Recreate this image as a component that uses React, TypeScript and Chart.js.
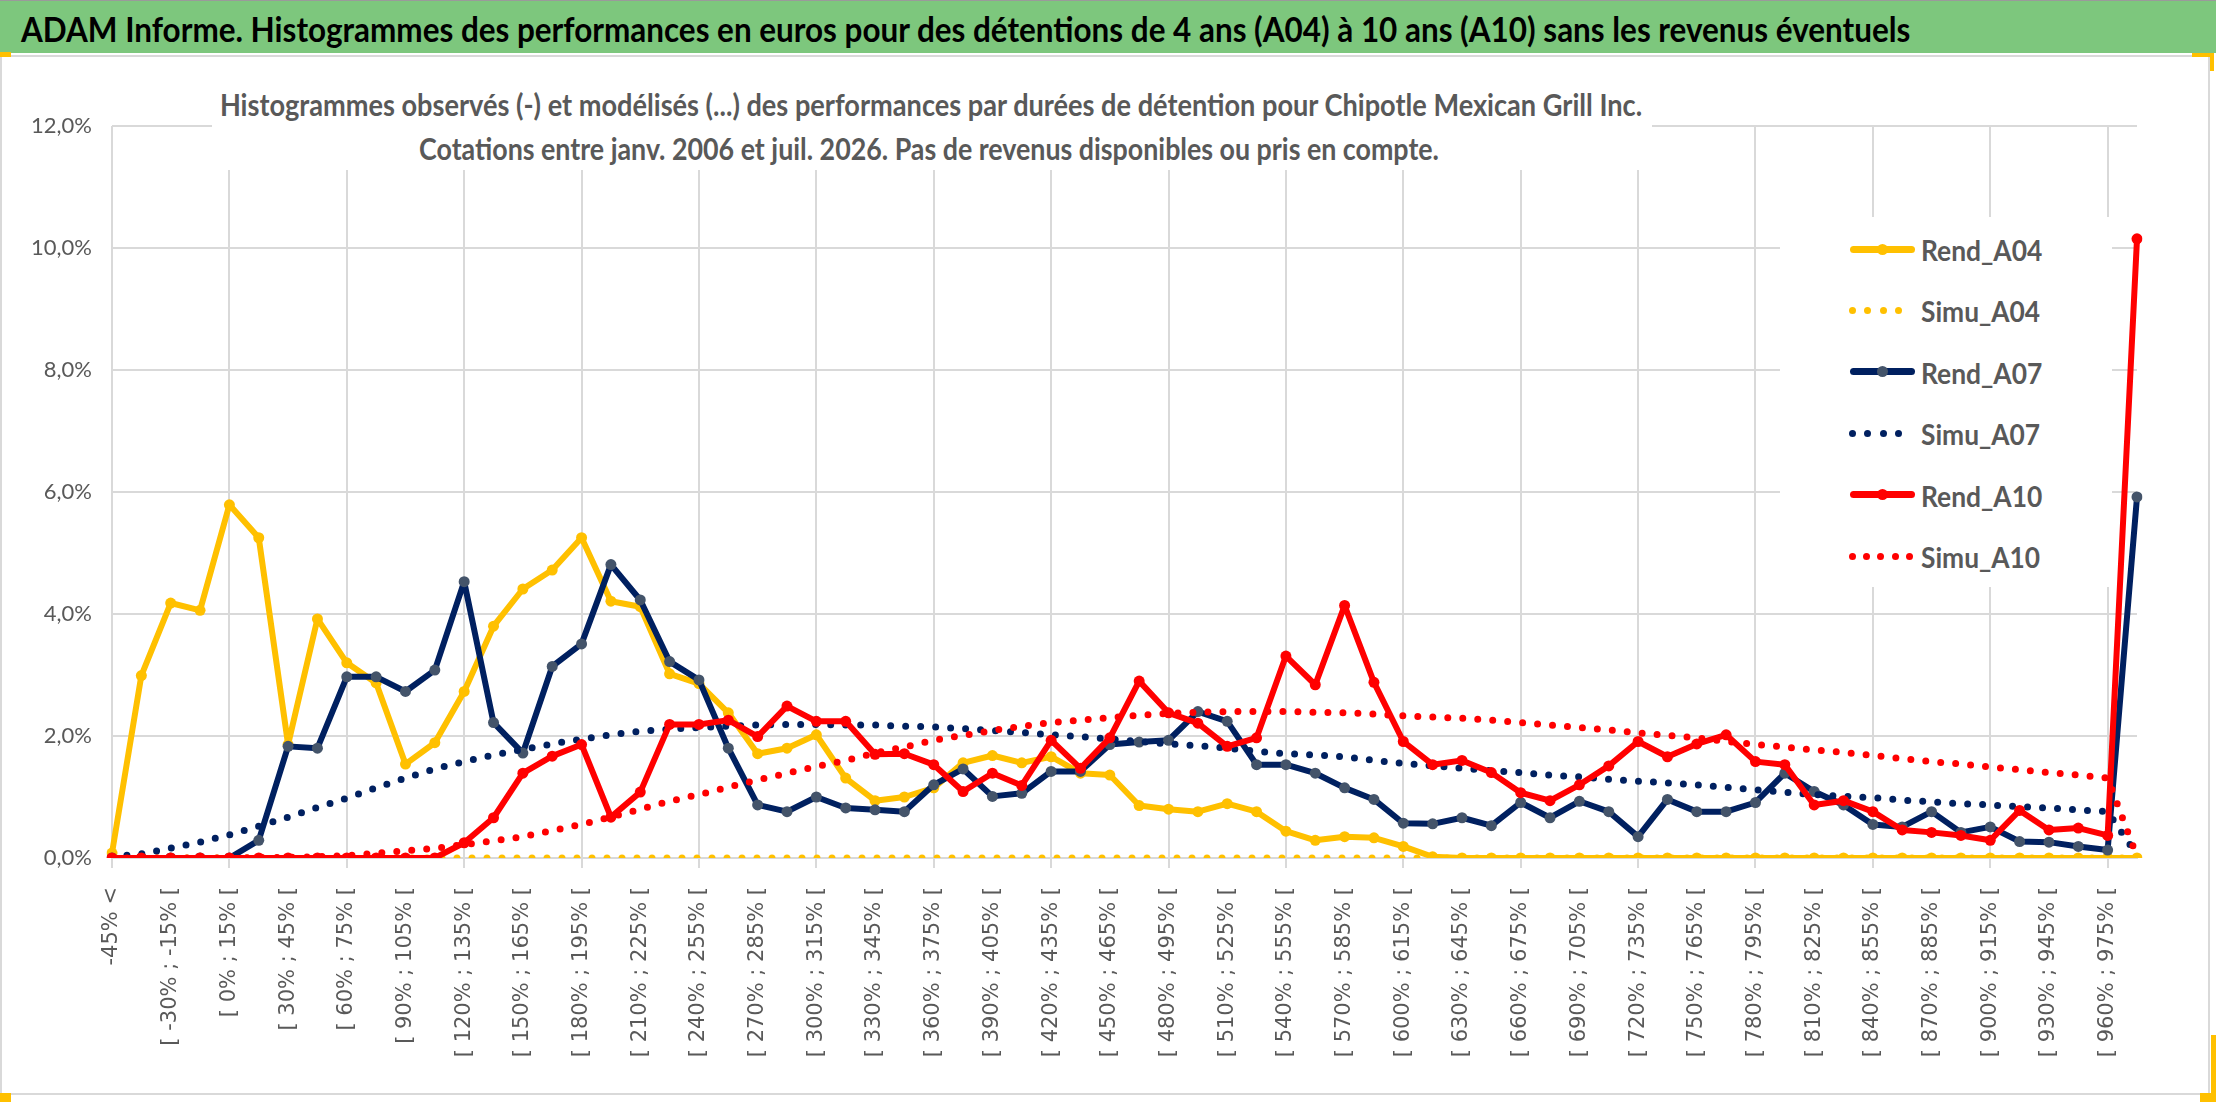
import { useEffect, useLayoutEffect, useRef, useState } from 'react';
import { Chart, registerables } from 'chart.js';

Chart.register(...registerables);

// lower bounds of the 15% bins, between "-45% <" and the last open bin
const binLower = [
    -45, -30, -15, 0, 15, 30, 45, 60, 75, 90, 105, 120, 135, 150, 165, 180, 195,
    210, 225, 240, 255, 270, 285, 300, 315, 330, 345, 360, 375, 390, 405, 420, 435,
    450, 465, 480, 495, 510, 525, 540, 555, 570, 585, 600, 615, 630, 645, 660, 675,
    690, 705, 720, 735, 750, 765, 780, 795, 810, 825, 840, 855, 870, 885, 900, 915,
    930, 945, 960,
];
const categories = ['-45% <', ...binLower.map((b) => `[ ${b}% ; ${b + 15}% [`), '> 975%'];

// values in %
const rendA04 = [
    0.08, 2.99, 4.18, 4.06, 5.79, 5.25, 1.86, 3.92, 3.2, 2.87,
    1.54, 1.89, 2.73, 3.8, 4.41, 4.72, 5.25, 4.21, 4.12, 3.02,
    2.86, 2.38, 1.71, 1.8, 2.02, 1.31, 0.94, 1.0, 1.15, 1.56,
    1.68, 1.56, 1.66, 1.39, 1.36, 0.86, 0.8, 0.76, 0.89, 0.76,
    0.44, 0.29, 0.35, 0.33, 0.19, 0.02, 0, 0, 0, 0,
    0, 0, 0, 0, 0, 0, 0, 0, 0, 0,
    0, 0, 0, 0, 0, 0, 0, 0, 0, 0,
];
const simuA04 = [
    0, 0, 0, 0, 0, 0, 0, 0, 0, 0,
    0, 0, 0, 0, 0, 0, 0, 0, 0, 0,
    0, 0, 0, 0, 0, 0, 0, 0, 0, 0,
    0, 0, 0, 0, 0, 0, 0, 0, 0, 0,
    0, 0, 0, 0, 0, 0, 0, 0, 0, 0,
    0, 0, 0, 0, 0, 0, 0, 0, 0, 0,
    0, 0, 0, 0, 0, 0, 0, 0, 0, 0,
];
const rendA07 = [
    0, 0, 0, 0, 0, 0.29, 1.83, 1.8, 2.97, 2.97,
    2.73, 3.08, 4.53, 2.22, 1.72, 3.14, 3.51, 4.81, 4.23, 3.22,
    2.92, 1.8, 0.87, 0.76, 1.0, 0.82, 0.79, 0.76, 1.2, 1.46,
    1.01, 1.06, 1.42, 1.42, 1.86, 1.9, 1.93, 2.4, 2.24, 1.53,
    1.53, 1.39, 1.15, 0.96, 0.57, 0.56, 0.66, 0.53, 0.91, 0.66,
    0.93, 0.76, 0.35, 0.96, 0.76, 0.76, 0.91, 1.39, 1.09, 0.87,
    0.55, 0.51, 0.76, 0.42, 0.51, 0.27, 0.26, 0.19, 0.13, 5.92,
];
const simuA07 = [
    0.02, 0.07, 0.16, 0.26, 0.38, 0.52, 0.67, 0.83, 0.98, 1.15,
    1.31, 1.46, 1.58, 1.69, 1.78, 1.87, 1.95, 2.02, 2.08, 2.11,
    2.14, 2.16, 2.18, 2.19, 2.19, 2.18, 2.18, 2.16, 2.15, 2.12,
    2.09, 2.06, 2.02, 1.99, 1.95, 1.91, 1.87, 1.84, 1.8, 1.75,
    1.71, 1.69, 1.66, 1.6, 1.55, 1.51, 1.47, 1.43, 1.4, 1.36,
    1.33, 1.29, 1.26, 1.23, 1.2, 1.16, 1.12, 1.08, 1.04, 1.01,
    0.99, 0.95, 0.92, 0.89, 0.87, 0.84, 0.82, 0.79, 0.76, 0.05,
];
const rendA10 = [
    0, 0, 0, 0, 0, 0, 0, 0, 0, 0,
    0, 0, 0.25, 0.66, 1.39, 1.67, 1.86, 0.67, 1.08, 2.19,
    2.19, 2.26, 1.99, 2.49, 2.24, 2.24, 1.7, 1.71, 1.53, 1.09,
    1.39, 1.19, 1.93, 1.47, 1.97, 2.9, 2.38, 2.21, 1.83, 1.97,
    3.31, 2.84, 4.14, 2.88, 1.91, 1.53, 1.6, 1.4, 1.07, 0.94,
    1.2, 1.51, 1.91, 1.66, 1.87, 2.02, 1.58, 1.53, 0.87, 0.94,
    0.76, 0.46, 0.42, 0.37, 0.29, 0.78, 0.46, 0.49, 0.37, 10.15,
];
const simuA10 = [
    0, 0, 0, 0, 0, 0.01, 0.01, 0.02, 0.04, 0.08,
    0.12, 0.16, 0.22, 0.28, 0.35, 0.45, 0.55, 0.67, 0.8, 0.93,
    1.04, 1.16, 1.28, 1.39, 1.5, 1.6, 1.72, 1.82, 1.93, 2.01,
    2.09, 2.16, 2.22, 2.26, 2.3, 2.34, 2.37, 2.39, 2.4, 2.4,
    2.4, 2.39, 2.38, 2.36, 2.33, 2.31, 2.29, 2.26, 2.22, 2.18,
    2.14, 2.1, 2.05, 2.01, 1.97, 1.91, 1.86, 1.82, 1.77, 1.73,
    1.68, 1.63, 1.58, 1.54, 1.49, 1.45, 1.4, 1.36, 1.31, 0.02,
];

const YELLOW = '#FFC000';
const NAVY = '#002060';
const NAVY_MARK = '#44546A';
const RED = '#FF0000';
const GRID = '#D9D9D9';
const TEXT = '#595959';

const W = 2216;
const H = 1102;
const PLOT = { left: 112, right: 2137, top: 126, bottom: 858 };

const solid = (label: string, data: number[], color: string, mark: string, order: number) => ({
    label,
    data,
    borderColor: color,
    backgroundColor: color,
    borderWidth: 6,
    borderJoinStyle: 'round',
    pointRadius: 5.5,
    pointBackgroundColor: mark,
    pointBorderColor: mark,
    pointBorderWidth: 0,
    tension: 0,
    order,
});

const dotted = (label: string, data: number[], color: string, order: number) => ({
    label,
    data,
    borderColor: color,
    backgroundColor: color,
    borderWidth: 7,
    borderDash: [0, 15],
    borderCapStyle: 'round',
    pointRadius: 0,
    tension: 0,
    order,
});

type FitProps = {
    text: string;
    x: number;
    y: number;
    width: number;
    font: string;
    color: string;
    center?: boolean;
};

// text squeezed horizontally to the width it has in the picture
const FitText = ({ text, x, y, width, font, color, center }: FitProps) => {
    const ref = useRef<HTMLSpanElement | null>(null);
    const [scale, setScale] = useState(1);
    useLayoutEffect(() => {
        const w = ref.current?.offsetWidth;
        if (w) setScale(width / w);
    }, [text, width, font]);
    return (
        <span
            ref={ref}
            style={{
                position: 'absolute',
                left: x,
                top: y,
                font,
                color,
                lineHeight: 1,
                whiteSpace: 'nowrap',
                transformOrigin: center ? '50% 50%' : '0 50%',
                transform: `translate(${center ? '-50%' : '0'}, -50%) scaleX(${scale})`,
            }}
        >
            {text}
        </span>
    );
};

const legendItems = [
    { label: 'Rend_A04', color: YELLOW, mark: YELLOW, dots: 0, w: 121 },
    { label: 'Simu_A04', color: YELLOW, mark: '', dots: 4, w: 119 },
    { label: 'Rend_A07', color: NAVY, mark: NAVY_MARK, dots: 0, w: 121 },
    { label: 'Simu_A07', color: NAVY, mark: '', dots: 4, w: 119 },
    { label: 'Rend_A10', color: RED, mark: RED, dots: 0, w: 121 },
    { label: 'Simu_A10', color: RED, mark: '', dots: 5, w: 119 },
];

const App = () => {
    const chartRef = useRef<HTMLCanvasElement | null>(null);

    useEffect(() => {
        const ctx = chartRef.current?.getContext('2d');
        if (!ctx) return;
        const config: any = {
            type: 'line',
            data: {
                labels: categories,
                datasets: [
                    solid('Rend_A04', rendA04, YELLOW, YELLOW, 6),
                    dotted('Simu_A04', simuA04, YELLOW, 5),
                    solid('Rend_A07', rendA07, NAVY, NAVY_MARK, 4),
                    dotted('Simu_A07', simuA07, NAVY, 3),
                    solid('Rend_A10', rendA10, RED, RED, 2),
                    dotted('Simu_A10', simuA10, RED, 1),
                ],
            },
            options: {
                animation: false,
                responsive: true,
                maintainAspectRatio: false,
                layout: { padding: { left: 0, top: PLOT.top, right: W - PLOT.right, bottom: 0 } },
                plugins: {
                    legend: { display: false },
                    title: { display: false },
                    tooltip: { enabled: false },
                },
                scales: {
                    x: {
                        offset: false,
                        afterFit: (s: any) => {
                            s.height = H - PLOT.bottom;
                        },
                        grid: {
                            color: (c: any) => (c.index % 4 === 0 ? GRID : 'rgba(0,0,0,0)'),
                            lineWidth: 2,
                            drawTicks: true,
                            tickLength: 10,
                        },
                        border: { display: true, color: GRID, width: 2 },
                        ticks: {
                            autoSkip: false,
                            minRotation: 90,
                            maxRotation: 90,
                            padding: 19,
                            color: TEXT,
                            font: { family: "'DejaVu Sans', sans-serif", size: 21 },
                            callback: (_v: any, i: number) => (i % 2 === 0 ? categories[i] : ''),
                        },
                    },
                    y: {
                        min: 0,
                        max: 12,
                        afterFit: (s: any) => {
                            s.width = PLOT.left;
                        },
                        grid: { color: GRID, lineWidth: 2, drawTicks: false },
                        border: { display: false },
                        ticks: {
                            stepSize: 2,
                            padding: 20,
                            color: TEXT,
                            font: { family: "'Liberation Sans Narrow', Lato, sans-serif", size: 22 },
                            callback: (v: number) => `${v.toFixed(1).replace('.', ',')}%`,
                        },
                    },
                },
            },
        };
        const myChart = new Chart(ctx, config);

        return () => {
            myChart.destroy();
        };
    }, []);

    const legendTop = 249;
    const legendStep = 61.4;

    return (
        <div style={{ position: 'absolute', left: 0, top: 0, width: W, height: H, background: '#fff', overflow: 'hidden' }}>
            {/* green banner */}
            <div style={{ position: 'absolute', left: 0, top: 0, width: W, height: 53, background: '#7DC77D', borderTop: '1px solid #9a9a9a', boxSizing: 'border-box' }} />
            <FitText
                text="ADAM Informe. Histogrammes des performances en euros pour des détentions de 4 ans (A04) à 10 ans (A10) sans les revenus éventuels"
                x={21}
                y={29}
                width={1889}
                font="bold 34px Lato"
                color="#000"
            />
            {/* chart frame */}
            <div style={{ position: 'absolute', left: 0, top: 55, width: 2210, height: 1040, border: `2px solid ${GRID}`, boxSizing: 'border-box' }} />

            <div style={{ position: 'absolute', left: 0, top: 0, width: W, height: H }}>
                <canvas ref={chartRef} />
            </div>

            {/* chart title over the plot */}
            <div style={{ position: 'absolute', left: 212, top: 68, width: 1440, height: 102, background: '#fff' }} />
            <FitText
                text="Histogrammes observés (-) et modélisés (...) des performances par durées de détention pour Chipotle Mexican Grill Inc."
                x={931}
                y={104}
                width={1422}
                font="bold 30px Lato"
                color={TEXT}
                center
            />
            <FitText
                text="Cotations entre janv. 2006 et juil. 2026. Pas de revenus disponibles ou pris en compte."
                x={929}
                y={148}
                width={1020}
                font="bold 30px Lato"
                color={TEXT}
                center
            />

            {/* legend */}
            <div style={{ position: 'absolute', left: 1780, top: 217, width: 332, height: 370, background: '#fff' }} />
            {legendItems.map((it, k) => {
                const cy = legendTop + k * legendStep;
                return (
                    <div key={it.label}>
                        {it.dots === 0 ? (
                            <>
                                <div style={{ position: 'absolute', left: 1850, top: cy - 3.5, width: 65, height: 7, borderRadius: 3.5, background: it.color }} />
                                <div style={{ position: 'absolute', left: 1882 - 5.5, top: cy - 5.5, width: 11, height: 11, borderRadius: 6, background: it.mark }} />
                            </>
                        ) : (
                            Array.from({ length: it.dots }).map((_, d) => {
                                const step = it.dots === 5 ? 14.4 : 15.6;
                                return (
                                    <div
                                        key={d}
                                        style={{ position: 'absolute', left: 1852 + d * step - 3.5, top: cy - 3.5, width: 7, height: 7, borderRadius: 4, background: it.color }}
                                    />
                                );
                            })
                        )}
                        <FitText text={it.label} x={1921} y={cy} width={it.w} font="bold 29px Lato" color={TEXT} />
                    </div>
                );
            })}

            {/* selection handles */}
            <div style={{ position: 'absolute', left: 0, top: 52, width: 11, height: 5, background: YELLOW }} />
            <div style={{ position: 'absolute', left: 2192, top: 53, width: 22, height: 4, background: YELLOW }} />
            <div style={{ position: 'absolute', left: 2210, top: 53, width: 4, height: 18, background: YELLOW }} />
            <div style={{ position: 'absolute', left: 2211, top: 1035, width: 5, height: 60, background: YELLOW }} />
            <div style={{ position: 'absolute', left: 0, top: 1093, width: 11, height: 9, background: YELLOW }} />
            <div style={{ position: 'absolute', left: 2200, top: 1093, width: 16, height: 9, background: YELLOW }} />
        </div>
    );
};

export default App;
